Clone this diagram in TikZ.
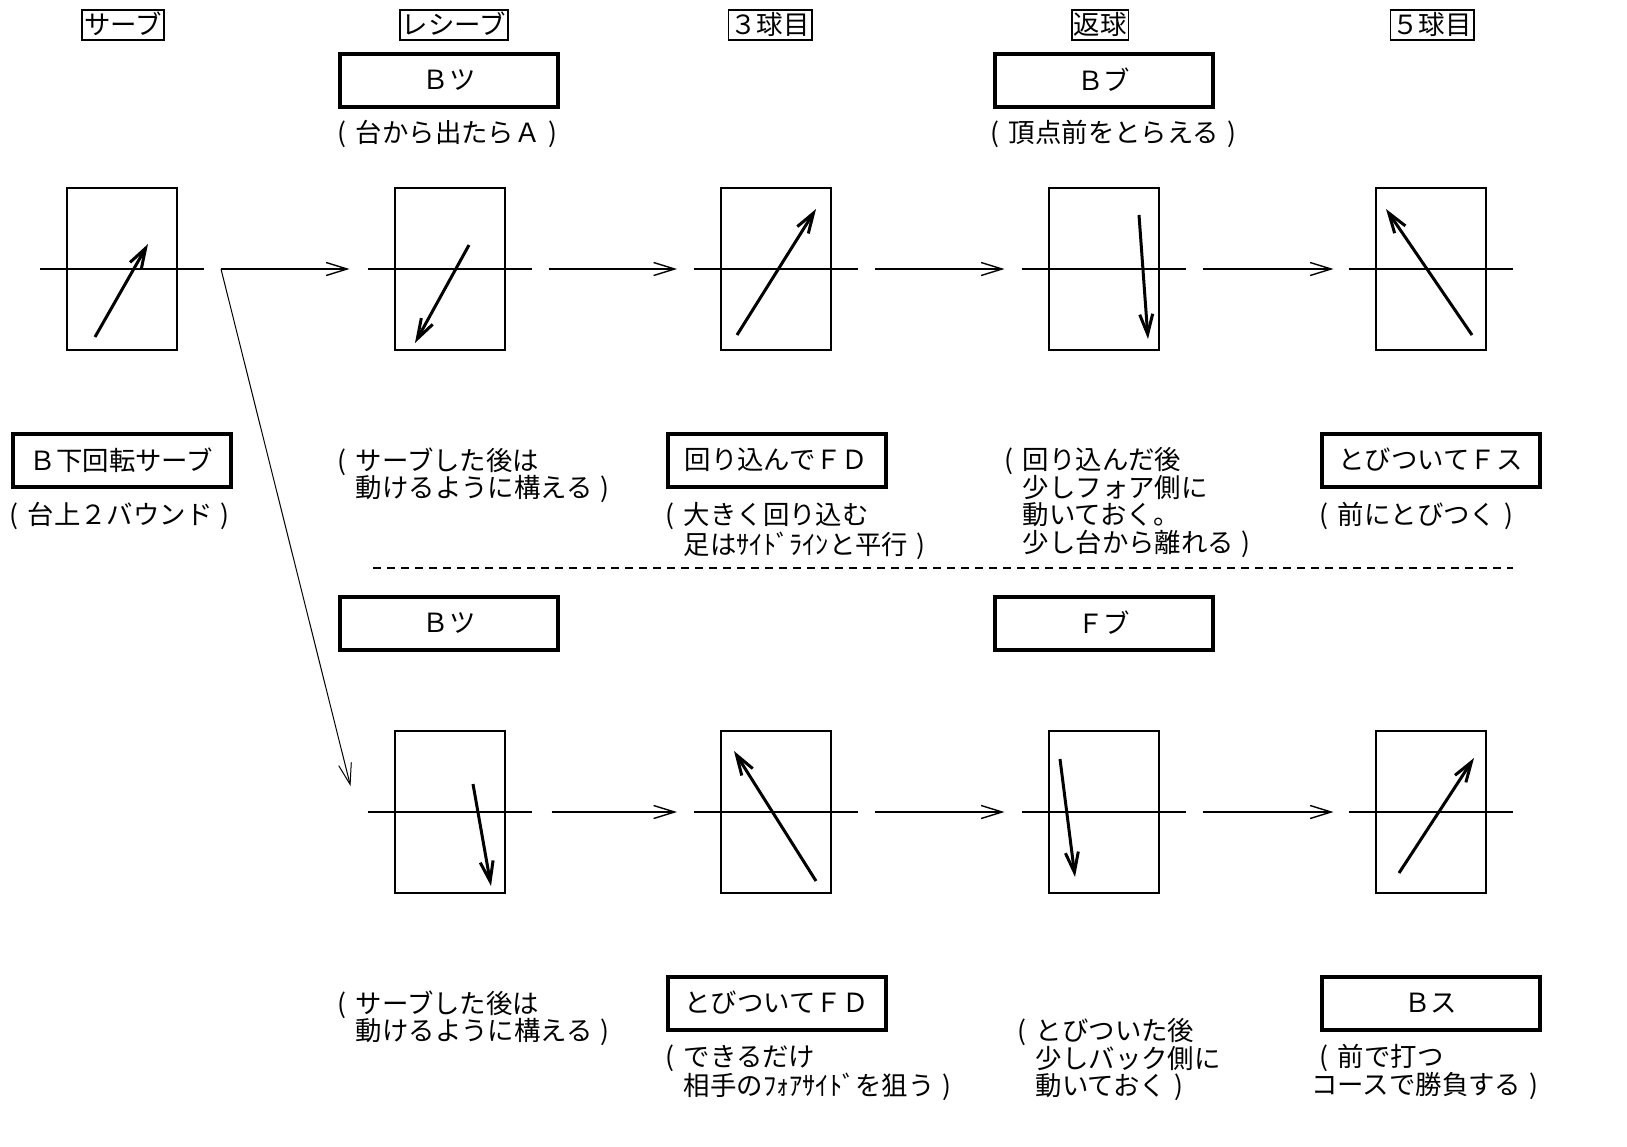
\documentclass[tikz,border=0pt]{standalone}
\usepackage{fontspec}
\setmainfont{Noto Sans CJK JP}
\usetikzlibrary{calc,arrows.meta}
\tikzset{
	court/.style={draw, line width=1pt, minimum width=55pt, minimum height=81pt, inner sep=0pt, outer sep=0pt},
	net/.style={line width=1pt},
	heading/.style={draw, line width=0.9pt, inner sep=1pt, text height=11pt, text depth=2pt, font=\fontsize{13.2}{14}\selectfont},
	shot/.style={draw, line width=2pt, minimum width=109pt, minimum height=26.5pt, inner sep=0pt, font=\fontsize{13.2}{14}\selectfont},
	note/.style={anchor=north west, align=left, inner sep=0pt, font=\fontsize{13.2}{13.75}\selectfont},
	flow/.style={line width=0.7pt, -{Straight Barb[length=10.5pt,width=6.5pt]}},
	ball/.style={line width=1.5pt, -{Straight Barb[length=10pt,width=6.5pt]}}
}
\def\tablecourt(#1)(#2,#3){\node[court] (#1) at (#2,#3) {}; \draw[net] ($(#1.west)+(-27,0)$) -- ($(#1.east)+(27,0)$);}
\def\lp{\makebox[1em][l]{\hspace{0.3em}(}}
\def\rp{\makebox[1em][l]{\hspace{0.3em})}}

\begin{document}
\begin{tikzpicture}[x=0.5pt, y=-0.5pt]
			%%%%% START %%%%%
			\useasboundingbox (0,0) rectangle (1627,1146);
			
			\node[heading] (hserve) at (123,25) {サーブ};
			\node[heading] (hrecv) at (454,25) {レシーブ};
			\node[heading] (hthird) at (770,25) {３球目};
			\node[heading] (hreturn) at (1100,25) {返球};
			\node[heading] (hfifth) at (1432,25) {５球目};
			
			\node[shot] (recvA) at (449,80) {Ｂツ};
			\node[note] at (329,120) {\lp 台から出たらＡ\rp};
			\node[shot] (returnA) at (1103.5,80) {Ｂブ};
			\node[note] at (982,120) {\lp 頂点前をとらえる\rp};
			
			% upper rally
			\tablecourt(c1)(122,269)
			\tablecourt(c2)(449.5,269)
			\tablecourt(c3)(776,269)
			\tablecourt(c4)(1103.5,269)
			\tablecourt(c5)(1430.5,269)
			
			\draw[ball] (95,337) -- (148,244);
			\draw[ball] (469,245) -- (415,343);
			\draw[ball] (737,335) -- (816,209);
			\draw[ball] (1139,215) -- (1148,339);
			\draw[ball] (1472,335) -- (1386,209);
			
			\draw[flow] ($(c1.east)+(44,0)$) -- ($(c2.west)+(-45,0)$);
			\draw[flow] ($(c2.east)+(44,0)$) -- ($(c3.west)+(-44,0)$);
			\draw[flow] ($(c3.east)+(44,0)$) -- ($(c4.west)+(-44,0)$);
			\draw[flow] ($(c4.east)+(44,0)$) -- ($(c5.west)+(-42,0)$);
			
			\node[shot] (serve) at (121.5,460) {Ｂ下回転サーブ};
			\node[note] at (1,502) {\lp 台上２バウンド\rp};
			\node[note] at (329,447) {\lp サーブした後は\\　動けるように構える\rp};
			\node[shot] (thirdA) at (776.5,460) {回り込んでＦＤ};
			\node[note] at (657,502) {\lp 大きく回り込む\\　足はｻｲﾄﾞﾗｲﾝと平行\rp};
			\node[note] at (996,447) {\lp 回り込んだ後\\　少しフォア側に\\　動いておく。\\　少し台から離れる\rp};
			\node[shot] (fifthA) at (1430.5,460) {とびついてＦス};
			\node[note] at (1311,502) {\lp 前にとびつく\rp};
			
			\draw[line width=0.8pt, dash pattern=on 4pt off 3pt] (373,568) -- (1513,568);
			
			% lower rally
			\node[shot] (recvB) at (449,623) {Ｂツ};
			\node[shot] (returnB) at (1103.5,623) {Ｆブ};
			
			\tablecourt(d2)(449.5,812)
			\tablecourt(d3)(776,812)
			\tablecourt(d4)(1103.5,812)
			\tablecourt(d5)(1430.5,812)
			
			\draw[ball] (473,784) -- (491,886);
			\draw[ball] (816,881) -- (734,751);
			\draw[ball] (1060,759) -- (1075,877);
			\draw[ball] (1399,873) -- (1474,758);
			
			\draw[line width=0.5pt, -{Straight Barb[length=10.5pt,width=6.5pt]}] ($(c1.east)+(44,0)$) -- ($(d2.west)+(-44,-26)$);
			\draw[flow] ($(d2.east)+(47,0)$) -- ($(d3.west)+(-44,0)$);
			\draw[flow] ($(d3.east)+(44,0)$) -- ($(d4.west)+(-44,0)$);
			\draw[flow] ($(d4.east)+(44,0)$) -- ($(d5.west)+(-42,0)$);
			
			\node[note] at (329,990) {\lp サーブした後は\\　動けるように構える\rp};
			\node[shot] (thirdB) at (776.5,1003) {とびついてＦＤ};
			\node[note] at (657,1044) {\lp できるだけ\\　相手のﾌｫｱｻｲﾄﾞを狙う\rp};
			\node[note] at (1009,1018) {\lp とびついた後\\　少しバック側に\\　動いておく\rp};
			\node[shot] (fifthB) at (1430.5,1003) {Ｂス};
			\node[note] at (1311,1044) {\lp 前で打つ\\コースで勝負する\rp};
			
			%%%%% END %%%%%
\end{tikzpicture}
\end{document}
